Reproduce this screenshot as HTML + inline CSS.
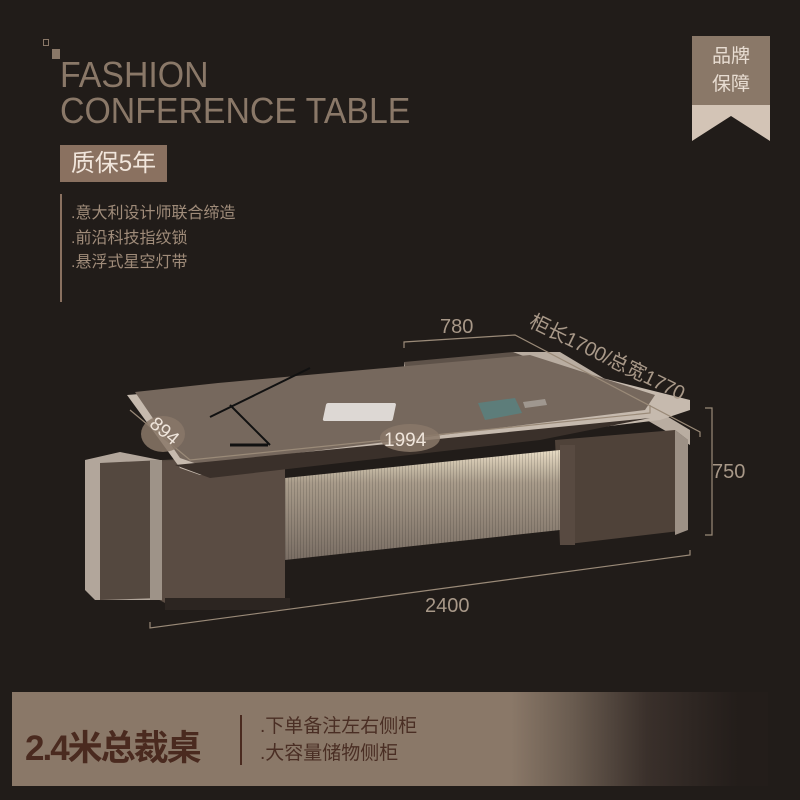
<!DOCTYPE html>
<html><head><meta charset="utf-8"><style>
body{margin:0;width:800px;height:800px;background:#211c19;overflow:hidden;position:relative;font-family:"Liberation Sans","Noto Sans CJK SC",sans-serif}
.a{position:absolute}
</style></head><body>
<div class="a" style="left:43px;top:39px;width:6px;height:7px;border:1px solid #8a7868;box-sizing:border-box"></div>
<div class="a" style="left:52px;top:49px;width:8px;height:10px;background:#8a7868"></div>
<div class="a" style="left:60px;top:57px;font-size:36px;color:#8a7868;line-height:36px;transform:scaleX(0.94);transform-origin:0 0;white-space:nowrap">FASHION<br>CONFERENCE TABLE</div>
<div class="a" style="left:60px;top:145px;width:107px;height:37px;background:#8a7160;color:#f1e6dc;font-size:24px;line-height:37px;text-align:center">质保5年</div>
<div class="a" style="left:60px;top:194px;width:2px;height:108px;background:#8a7160"></div>
<div class="a" style="left:71px;top:202px;color:#a08c7a;font-size:16px;line-height:24.5px">.意大利设计师联合缔造<br>.前沿科技指纹锁<br>.悬浮式星空灯带</div>
<div class="a" style="left:692px;top:36px;width:78px;height:70px;background:#8a7868;color:#e8ddd2;font-size:19px;line-height:28px;text-align:center;padding-top:7px;box-sizing:border-box">品牌<br>保障</div>
<svg class="a" style="left:692px;top:105px" width="78" height="38"><polygon points="0,0 78,0 78,36 39,11 0,36" fill="#d3c4b6"/></svg>
<svg class="a" style="left:0;top:0" width="800" height="680">
<polygon points="404,362 513,352 545,360 545,390 404,398" fill="#5e5249"/>
<polygon points="404,362 410,398 404,400" fill="#c9bfb4"/>
<polygon points="513,352 560,352 690,430 690,445 560,370" fill="#b9ada1"/>
<polygon points="555,440 675,430 688,440 688,530 560,545" fill="#4f4239"/>
<polygon points="675,430 688,440 688,530 675,535" fill="#9d9186"/>
<polygon points="85,460 120,452 160,460 160,600 95,600 85,590" fill="#b2a69b"/>
<polygon points="100,463 265,455 285,460 285,590 160,598 100,600" fill="#54483f"/>
<polygon points="150,462 270,455 285,462 285,600 165,603 150,595" fill="#5a4c43"/>
<rect x="150" y="460" width="12" height="140" fill="#9e9388"/>
<rect x="165" y="598" width="125" height="12" fill="#2c2521"/>
<defs><linearGradient id="g" x1="0" y1="0" x2="0" y2="1"><stop offset="0" stop-color="#e8dcc4"/><stop offset="0.3" stop-color="#a89b8a"/><stop offset="1" stop-color="#7a6e64"/></linearGradient>
<pattern id="st" width="3" height="10" patternUnits="userSpaceOnUse"><rect width="1" height="10" fill="#00000022"/></pattern></defs>
<polygon points="285,478 560,450 560,530 285,560" fill="url(#g)"/>
<polygon points="285,478 560,450 560,530 285,560" fill="url(#st)"/>
<rect x="560" y="445" width="15" height="100" fill="#584a41"/>
<polygon points="127,395 215,388 530,360 690,400 690,410 660,420 200,475 180,468" fill="#c6baae"/>
<polygon points="135,392 218,383 530,355 655,395 645,410 200,465 180,458" fill="#76685d"/>
<polygon points="175,465 650,418 540,440 210,478" fill="#3a302a"/>
<rect x="327" y="403" width="70" height="18" rx="2" fill="#ddd8d4" transform="skewX(-12) translate(85,0)"/>
<polygon points="478,403 515,398 522,413 485,420" fill="#5d7d7a"/>
<polygon points="523,402 545,399 547,405 525,408" fill="#9f978f"/>
<line x1="210" y1="417" x2="310" y2="368" stroke="#111" stroke-width="2"/>
<line x1="230" y1="405" x2="270" y2="445" stroke="#111" stroke-width="2"/>
<line x1="230" y1="445" x2="268" y2="445" stroke="#111" stroke-width="3"/>
<g stroke="#9a8a78" stroke-width="1.2" fill="none">
<polyline points="404,348 404,342 515,335 700,432 700,437"/>
<polyline points="705,408 712,408 712,535 705,535"/>
<polyline points="150,622 150,628 690,555 690,550"/>
<polyline points="130,410 190,460 650,413 650,405"/>
</g>
<ellipse cx="163" cy="434" rx="22" ry="18" fill="#8a7868" opacity="0.85"/>
<ellipse cx="410" cy="438" rx="30" ry="14" fill="#8a7868" opacity="0.85"/>
<g fill="#a89888" font-size="20" font-family="Liberation Sans,Noto Sans CJK SC,sans-serif">
<text x="440" y="333">780</text>
<text x="712" y="478">750</text>
<text x="425" y="612">2400</text>
<text x="528" y="326" transform="rotate(26 528 326)" textLength="170">柜长1700/总宽1770</text>
</g>
<g fill="#efe5db" font-size="19" font-family="Liberation Sans,sans-serif">
<text x="384" y="446">1994</text>
<text x="146" y="432" transform="rotate(40 156 432)">894</text>
</g>
</svg>
<div class="a" style="left:12px;top:692px;width:756px;height:94px;background:linear-gradient(90deg,#8a7868 0%,#8a7868 66%,#6a5c50 74%,#3a302b 84%,#231d1a 96%)"></div>
<div class="a" style="left:25px;top:720px;font-size:35px;color:#4a2a1f;font-weight:bold;letter-spacing:-2px">2.4米总裁桌</div>
<div class="a" style="left:240px;top:715px;width:2px;height:50px;background:#4a2a1f"></div>
<div class="a" style="left:260px;top:713px;color:#4a2e24;font-size:19px;line-height:27px">.下单备注左右侧柜<br>.大容量储物侧柜</div>
</body></html>
